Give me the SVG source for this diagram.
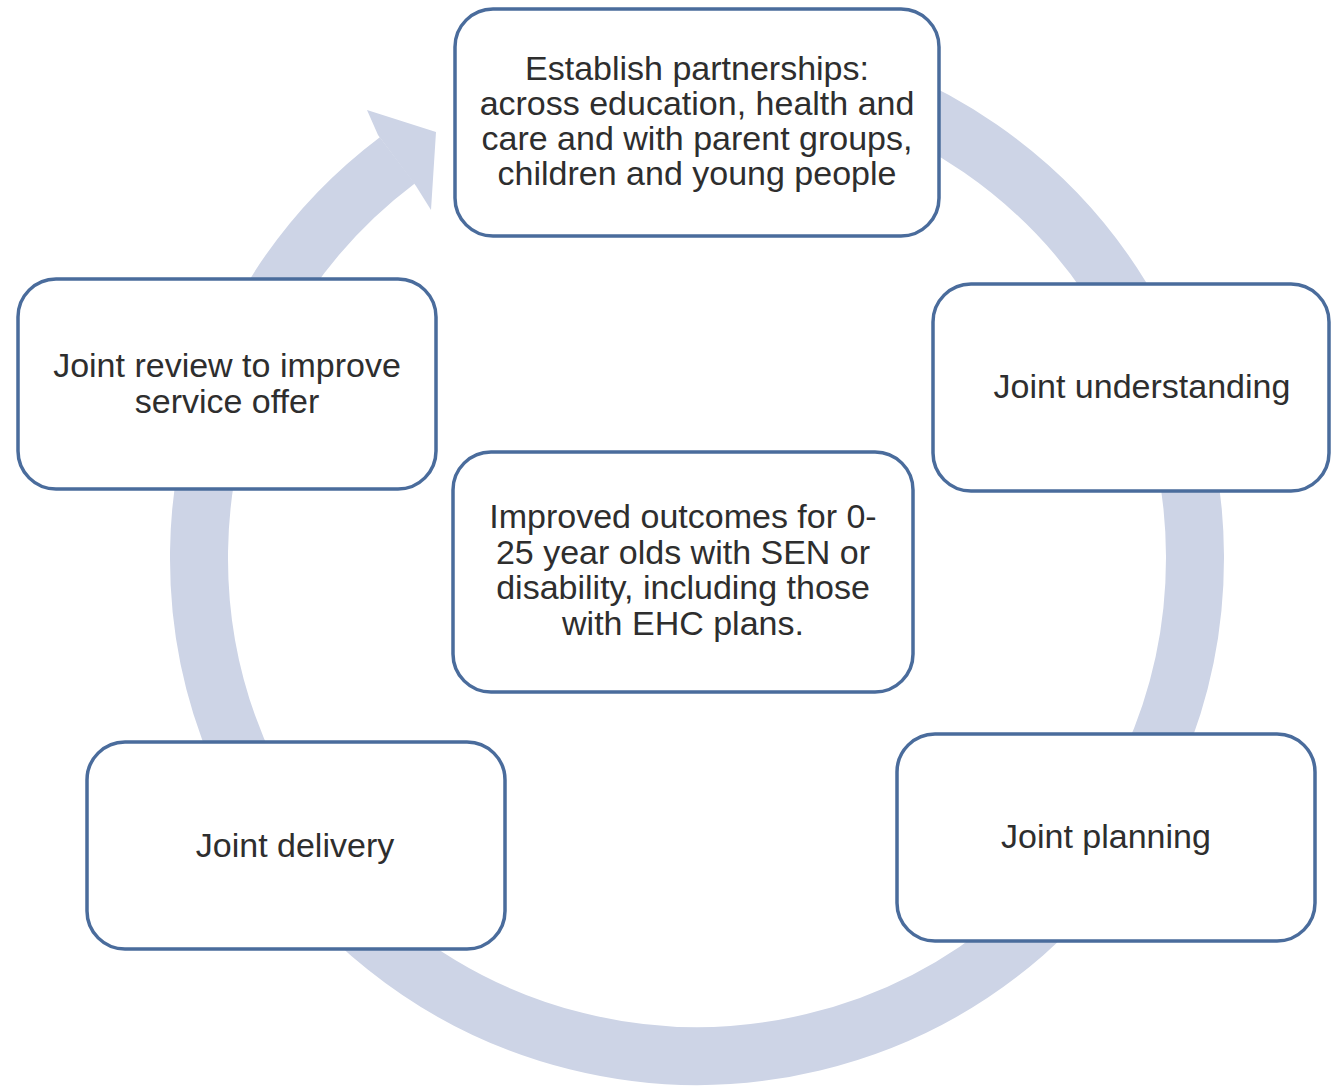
<svg xmlns="http://www.w3.org/2000/svg" width="1332" height="1088" viewBox="0 0 1332 1088">
  <style>
    .box { fill: #ffffff; stroke: #4a6c9c; stroke-width: 3.5; }
    .label { font-family: "Liberation Sans", Arial, Helvetica, sans-serif; font-size: 34px; fill: #2e2e2e; text-anchor: middle; }
    .ring { fill: none; stroke: #cdd4e6; stroke-width: 58; }
    .head { fill: #cdd4e6; }
  </style>
  <rect width="1332" height="1088" fill="#ffffff"/>

  <!-- circular cycle arrow behind the stages -->
  <g id="connectors">
    <path class="ring" d="M 783.5 67.6 A 498 498 0 1 1 397.3 160.3"/>
    <polygon class="head" points="367,110 436,132 431,210 416,186 378,135"/>
  </g>

  <g id="node-partnerships">
    <rect class="box" x="455" y="9" width="484" height="227" rx="38"/>
    <text class="label" x="697" y="80">Establish partnerships:</text>
    <text class="label" x="697" y="115">across education, health and</text>
    <text class="label" x="697" y="150">care and with parent groups,</text>
    <text class="label" x="697" y="185">children and young people</text>
  </g>

  <g id="node-understanding">
    <rect class="box" x="933" y="284" width="396" height="207" rx="38"/>
    <text class="label" x="1142" y="398">Joint understanding</text>
  </g>

  <g id="node-planning">
    <rect class="box" x="897" y="734" width="418" height="207" rx="38"/>
    <text class="label" x="1106" y="848">Joint planning</text>
  </g>

  <g id="node-delivery">
    <rect class="box" x="87" y="742" width="418" height="207" rx="38"/>
    <text class="label" x="295" y="857">Joint delivery</text>
  </g>

  <g id="node-review">
    <rect class="box" x="18" y="279" width="418" height="210" rx="38"/>
    <text class="label" x="227" y="377">Joint review to improve</text>
    <text class="label" x="227" y="413">service offer</text>
  </g>

  <g id="node-outcomes">
    <rect class="box" x="453" y="452" width="460" height="240" rx="38"/>
    <text class="label" x="683" y="528">Improved outcomes for 0-</text>
    <text class="label" x="683" y="564">25 year olds with SEN or</text>
    <text class="label" x="683" y="599">disability, including those</text>
    <text class="label" x="683" y="635">with EHC plans.</text>
  </g>
</svg>
